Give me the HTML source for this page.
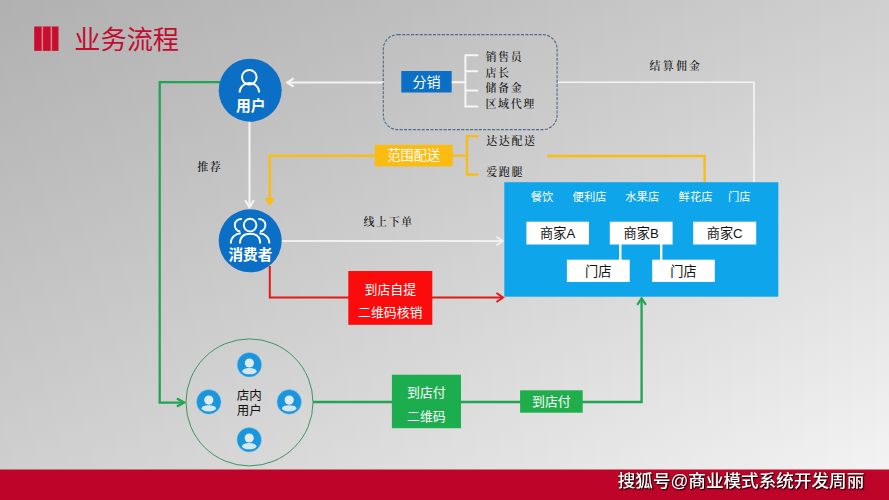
<!DOCTYPE html>
<html lang="zh-CN">
<head>
<meta charset="utf-8">
<title>业务流程</title>
<style>
html,body{margin:0;padding:0;}
body{width:889px;height:500px;overflow:hidden;position:relative;
  font-family:"Liberation Sans","Noto Sans CJK SC",sans-serif;
  background:linear-gradient(to right,rgba(0,0,0,0.15) 0%,rgba(0,0,0,0.095) 40%,rgba(0,0,0,0) 100%),linear-gradient(to bottom,#cfcfcf 0%,#f5f5f5 100%);}
svg{position:absolute;left:0;top:0;display:block;}
.sans{font-family:"Liberation Sans","Noto Sans CJK SC",sans-serif;}
.kai{font-family:"Liberation Serif","Noto Serif CJK SC",serif;font-size:11px;font-weight:500;fill:#0d0d0d;letter-spacing:1.6px;}
.w{fill:#fff;}
.b{font-weight:bold;}
</style>
</head>
<body>
<svg width="889" height="500" viewBox="0 0 889 500">
  <defs>
    <g id="smalluser">
      <circle cx="0" cy="0" r="12.3" fill="#1b95db" stroke="#8fd0f0" stroke-opacity="0.55" stroke-width="0.9"/>
      <circle cx="0" cy="-1.8" r="4.6" fill="#dfeaf1"/>
      <ellipse cx="0" cy="6.4" rx="7.2" ry="3.1" fill="#d6e6ef"/>
    </g>
  </defs>

  <!-- footer bar -->
  <rect x="0" y="469.5" width="889" height="31" fill="#be0529"/>

  <!-- title -->
  <rect x="34.2" y="26.5" width="24.3" height="24.4" fill="#c60f2f"/>
  <rect x="41.6" y="26.5" width="1.5" height="24.4" fill="#e77f90"/>
  <rect x="50.6" y="26.5" width="1.5" height="24.4" fill="#e77f90"/>
  <text class="sans" x="74.3" y="48.8" font-size="26.2" fill="#c20d30">业务流程</text>

  <!-- green path: user -> left -> down -> in-store circle -->
  <polyline points="220,82.2 159.7,82.2 159.7,402.6 182.5,402.6" fill="none" stroke="#22a454" stroke-width="2.3"/>
  <polyline points="176.9,398.6 184.2,402.6 176.9,406.6" fill="none" stroke="#22a454" stroke-width="2.3"/>

  <!-- white arrow: distribution -> user -->
  <line x1="384" y1="82.5" x2="288" y2="82.5" stroke="#f4f4f4" stroke-width="2.2"/>
  <polyline points="293.6,78.4 287.4,82.5 293.6,86.6" fill="none" stroke="#f4f4f4" stroke-width="2.3"/>

  <!-- white arrow: user -> consumer -->
  <line x1="249.5" y1="120" x2="249.5" y2="207" stroke="#f4f4f4" stroke-width="2"/>
  <polyline points="245.1,200.3 249.5,207.3 253.9,200.3" fill="none" stroke="#f4f4f4" stroke-width="2.1"/>

  <!-- yellow path -->
  <polyline points="375,155.7 269.7,155.7 269.7,200" fill="none" stroke="#fbbc12" stroke-width="2.4"/>
  <path d="M264.7 198 L274.7 198 L269.7 206.3 Z" fill="#fbbc12"/>
  <polyline points="547,156 704.6,156 704.6,183" fill="none" stroke="#fbbc12" stroke-width="2.4"/>

  <!-- white: commission line -->
  <polyline points="558,82.2 754,82.2 754,183" fill="none" stroke="#f4f4f4" stroke-width="1.6"/>

  <!-- white: consumer -> merchants -->
  <line x1="281" y1="241" x2="502" y2="241" stroke="#f0f0f0" stroke-width="1.8"/>
  <polyline points="496.3,236.6 503,241 496.3,245.4" fill="none" stroke="#f0f0f0" stroke-width="1.7"/>

  <!-- red path -->
  <polyline points="269.8,266 269.8,297.5 502,297.5" fill="none" stroke="#e41818" stroke-width="2"/>
  <polyline points="496.5,293 503,297.5 496.5,302" fill="none" stroke="#e41818" stroke-width="2"/>

  <!-- green path: in-store -> pay -> merchants -->
  <polyline points="313,402 641.6,402 641.6,299" fill="none" stroke="#22a454" stroke-width="2.3"/>
  <polyline points="637.3,304.8 641.6,298.2 645.9,304.8" fill="none" stroke="#22a454" stroke-width="2.2"/>

  <!-- user circle -->
  <circle cx="250.2" cy="90.2" r="31.5" fill="#0b6fc6"/>
  <circle cx="249.3" cy="77.3" r="7.3" fill="none" stroke="#fff" stroke-width="2"/>
  <path d="M239.6 92.5 A9.8 9.4 0 0 1 259.2 92.5" fill="none" stroke="#fff" stroke-width="2"/>
  <text class="sans w b" x="250.8" y="111.4" font-size="14.8" text-anchor="middle">用户</text>

  <!-- consumer circle -->
  <circle cx="250.2" cy="240.8" r="31.5" fill="#0b6fc6"/>
  <g fill="none" stroke="#fff" stroke-width="1.9">
    <circle cx="250.1" cy="225.1" r="6.3"/>
    <path d="M240 243.4 C240 236.6 244 233.7 250.1 233.7 C256.2 233.7 260.2 236.6 260.2 243.4"/>
    <path d="M241.9 219 A6.3 6.3 0 1 0 240.3 231.5"/>
    <path d="M230.8 243.4 C230.8 237.6 235 233.8 240.8 233.3"/>
    <path d="M258.3 219 A6.3 6.3 0 1 1 259.9 231.5"/>
    <path d="M269.4 243.4 C269.4 237.6 265.2 233.8 259.4 233.3"/>
  </g>
  <text class="sans w b" x="250.4" y="260.4" font-size="14.6" text-anchor="middle">消费者</text>

  <!-- distribution group -->
  <rect x="383.3" y="34.6" width="173.8" height="95" rx="14.5" ry="14.5" fill="none" stroke="#4d6a8f" stroke-width="1.1" stroke-dasharray="3 1.4"/>
  <rect x="401.3" y="71" width="50.4" height="21.5" fill="#0b6fc6"/>
  <text class="sans w" x="426.5" y="86.9" font-size="14" text-anchor="middle">分销</text>
  <path d="M451.7 82.2 H465.4 M478.3 55.2 H465.4 V106.4 H478.3 M465.4 71.2 H478 M465.4 90.4 H478" fill="none" stroke="#f6f6f6" stroke-width="2"/>
  <text class="kai" x="485.5" y="60.8">销售员</text>
  <text class="kai" x="485.5" y="76.6">店长</text>
  <text class="kai" x="485.5" y="92.2">储备金</text>
  <text class="kai" x="485.5" y="107.6">区域代理</text>
  <text class="kai" x="649.5" y="69.9" style="letter-spacing:2.2px">结算佣金</text>

  <!-- range delivery -->
  <rect x="374.8" y="144.8" width="78" height="21.6" fill="#fbbc12"/>
  <text class="sans w" x="413.8" y="160.4" font-size="13.2" text-anchor="middle">范围配送</text>
  <path d="M452.8 155.7 H467 M478.6 136.1 H467 V174.6 H478.6" fill="none" stroke="#fbbc12" stroke-width="2.3"/>
  <text class="kai" x="486.2" y="144.9">达达配送</text>
  <text class="kai" x="486.2" y="175.6">爱跑腿</text>

  <text class="kai" x="197.2" y="170.5">推荐</text>
  <text class="kai" x="363.5" y="226">线上下单</text>

  <!-- merchants box -->
  <rect x="504.3" y="182.2" width="274" height="114.5" fill="#0fa5ea"/>
  <g class="sans w" font-size="11.3">
    <text x="530.8" y="201.3">餐饮</text>
    <text x="572.6" y="201.3">便利店</text>
    <text x="625.3" y="201.3">水果店</text>
    <text x="678.6" y="201.3">鲜花店</text>
    <text x="728" y="201.3">门店</text>
  </g>
  <path d="M620.3 243 V261 M661.2 243 V261" stroke="#fff" stroke-width="2.4" fill="none"/>
  <g fill="#fff">
    <rect x="526.4" y="221.7" width="62.6" height="22.8"/>
    <rect x="609.8" y="221.7" width="62.8" height="22.8"/>
    <rect x="693.2" y="221.7" width="63" height="22.8"/>
    <rect x="566.9" y="259.7" width="62.8" height="22.3"/>
    <rect x="652.2" y="259.7" width="62.6" height="22.3"/>
  </g>
  <g class="sans" font-size="13.2" fill="#111" text-anchor="middle">
    <text x="557.7" y="237.9">商家A</text>
    <text x="641.2" y="237.9">商家B</text>
    <text x="724.7" y="237.9">商家C</text>
    <text x="598.3" y="276.1">门店</text>
    <text x="683.5" y="276.1">门店</text>
  </g>

  <!-- red box -->
  <rect x="348.3" y="271" width="84" height="53.8" fill="#fb0b0b"/>
  <g class="sans w" font-size="12.9" text-anchor="middle">
    <text x="390.3" y="294.4">到店自提</text>
    <text x="390.3" y="316.9">二维码核销</text>
  </g>

  <!-- green boxes -->
  <rect x="391.9" y="374.7" width="69.1" height="53.5" fill="#1cae4e"/>
  <g class="sans w" font-size="12.9" text-anchor="middle">
    <text x="426.4" y="397">到店付</text>
    <text x="426.4" y="420.5">二维码</text>
  </g>
  <rect x="520.1" y="390.3" width="62.6" height="22.4" fill="#20ae4c"/>
  <text class="sans w" x="551.4" y="406.3" font-size="12.9" text-anchor="middle">到店付</text>

  <!-- in-store circle -->
  <circle cx="249.5" cy="402.4" r="63.5" fill="none" stroke="#3a9763" stroke-width="1"/>
  <use href="#smalluser" x="249.4" y="364.8"/>
  <use href="#smalluser" x="208.8" y="401.9"/>
  <use href="#smalluser" x="289.2" y="401.9"/>
  <use href="#smalluser" x="249.2" y="439.8"/>
  <g class="sans" font-size="12.5" fill="#111" text-anchor="middle">
    <text x="249.2" y="400.3">店内</text>
    <text x="249.2" y="415.3">用户</text>
  </g>

  <!-- footer watermark -->
  <text class="sans" x="617.7" y="486.7" font-size="17.6" font-weight="500" fill="#fff" style="filter:drop-shadow(1px 1px 0.7px rgba(30,0,5,0.95)) drop-shadow(0 0 0.8px rgba(60,0,10,0.6))">搜狐号@商业模式系统开发周丽</text>
</svg>
</body>
</html>
